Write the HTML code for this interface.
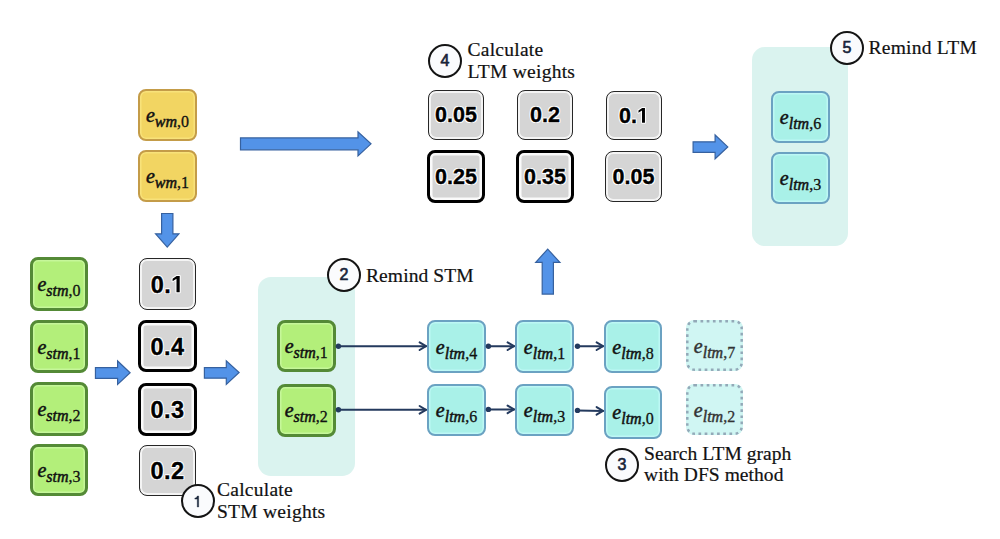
<!DOCTYPE html>
<html><head><meta charset="utf-8">
<style>
html,body{margin:0;padding:0;background:#fff;}
body{width:1000px;height:539px;position:relative;overflow:hidden;font-family:"Liberation Serif",serif;}
.bx{position:absolute;box-sizing:border-box;border-radius:8px;display:flex;align-items:center;justify-content:center;}
.g{background:#b3ef7a;border:3px solid #548a36;box-shadow:inset 0 0 0 1.5px #c6f79a;}
.y{background:#f2d562;border:2.5px solid #c49c48;box-shadow:inset 0 0 0 1.5px #f8e27a;}
.w{background:#d5d5d5;border:1.8px solid #262626;box-shadow:inset 0 0 0 2px #f4f4f4;}
.w.k{border:3.5px solid #000;box-shadow:inset 0 0 0 2.5px #fafafa;}
.t{background:#a9f1e8;border:2.7px solid #6ba2c2;box-shadow:inset 0 0 0 1.5px #bdf8f5;}
.d{background:#d0f6f3;border:none;}
.ctr{position:absolute;background:#daf3ef;border-radius:13px;}
.num{font-family:"Liberation Sans",sans-serif;font-weight:bold;font-size:21.5px;letter-spacing:0.1px;position:relative;top:0.7px;color:#000;-webkit-text-stroke:0.35px #000;text-shadow:1px 0 0 #fff,-1px 0 0 #fff,0 1px 0 #fff,0 -1px 0 #fff,1px 1px 0 #fff,-1px -1px 0 #fff,1px -1px 0 #fff,-1px 1px 0 #fff;}
.lab{font-family:"Liberation Serif",serif;font-size:20px;color:#111;white-space:nowrap;line-height:20px;position:relative;top:1px;-webkit-text-stroke:0.3px #111;}
.lab i{font-style:italic;font-weight:normal;-webkit-text-stroke:0.5px #111;}
.lab .s{font-size:16px;position:relative;top:5px;}
.d .lab{color:#333;-webkit-text-stroke:0.3px #333;}
.d .lab i{font-weight:normal;-webkit-text-stroke:0.45px #333;}
.circ{position:absolute;box-sizing:border-box;width:34px;height:34px;border-radius:50%;border:2px solid #141414;background:#fafbfd;font-family:"Liberation Sans",sans-serif;font-size:16px;display:flex;align-items:center;justify-content:center;color:#18243a;-webkit-text-stroke:0.65px #18243a;}
.txt{position:absolute;font-family:"Liberation Serif",serif;font-size:19.5px;letter-spacing:0.25px;line-height:22px;color:#111;white-space:nowrap;-webkit-text-stroke:0.2px #111;}
svg.ov{position:absolute;left:0;top:0;}
.L .num{font-size:23.5px;letter-spacing:0.5px;top:1px;}
svg.one{display:inline-block;width:0.556em;height:0.688em;vertical-align:baseline;overflow:visible;fill:currentColor;}
</style></head>
<body>

<!-- containers -->
<div class="ctr" style="left:258px;top:277px;width:96.5px;height:199px;"></div>
<div class="ctr" style="left:752px;top:47px;width:96px;height:199px;"></div>

<!-- WM yellow -->
<div class="bx y" style="left:138px;top:89px;width:59px;height:52px;"><span class="lab"><i>e</i><span class="s"><i>wm</i>,0</span></span></div>
<div class="bx y" style="left:138px;top:150px;width:59px;height:52px;"><span class="lab"><i>e</i><span class="s"><i>wm</i>,1</span></span></div>

<!-- STM green left -->
<div class="bx g" style="left:30px;top:257px;width:58px;height:54px;"><span class="lab"><i>e</i><span class="s"><i>stm</i>,0</span></span></div>
<div class="bx g" style="left:30px;top:320px;width:58px;height:53px;"><span class="lab"><i>e</i><span class="s"><i>stm</i>,1</span></span></div>
<div class="bx g" style="left:30px;top:382px;width:58px;height:54px;"><span class="lab"><i>e</i><span class="s"><i>stm</i>,2</span></span></div>
<div class="bx g" style="left:30px;top:444px;width:58px;height:52px;"><span class="lab"><i>e</i><span class="s"><i>stm</i>,3</span></span></div>

<!-- STM weights -->
<div class="bx L w" style="left:139px;top:258px;width:57px;height:52px;"><span class="num">0.<svg class="one" viewBox="0 -1409 1139 1409"><path d="M478 0V-1170L140-959V-1180L493-1409H759V0Z" stroke="#fff" stroke-width="180" paint-order="stroke" stroke-linejoin="round"/></svg></span></div>
<div class="bx L w k" style="left:138px;top:320px;width:59px;height:52px;"><span class="num">0.4</span></div>
<div class="bx L w k" style="left:138px;top:383px;width:59px;height:53px;"><span class="num">0.3</span></div>
<div class="bx L w" style="left:139px;top:444.5px;width:57px;height:51px;"><span class="num">0.2</span></div>

<!-- Remind STM green -->
<div class="bx g" style="left:277px;top:320.3px;width:58.5px;height:52px;"><span class="lab"><i>e</i><span class="s"><i>stm</i>,1</span></span></div>
<div class="bx g" style="left:277px;top:383.5px;width:58.5px;height:53px;"><span class="lab"><i>e</i><span class="s"><i>stm</i>,2</span></span></div>

<!-- LTM graph -->
<div class="bx t" style="left:427px;top:320px;width:59px;height:53px;"><span class="lab"><i>e</i><span class="s"><i>ltm</i>,4</span></span></div>
<div class="bx t" style="left:515px;top:320px;width:59px;height:53px;"><span class="lab"><i>e</i><span class="s"><i>ltm</i>,1</span></span></div>
<div class="bx t" style="left:604px;top:320px;width:58px;height:53px;"><span class="lab"><i>e</i><span class="s"><i>ltm</i>,8</span></span></div>
<div class="bx d" style="left:686px;top:320px;width:57px;height:51px;"><span class="lab"><i>e</i><span class="s"><i>ltm</i>,7</span></span></div>
<div class="bx t" style="left:427px;top:383.5px;width:59px;height:52px;"><span class="lab"><i>e</i><span class="s"><i>ltm</i>,6</span></span></div>
<div class="bx t" style="left:515px;top:383.5px;width:59px;height:52px;"><span class="lab"><i>e</i><span class="s"><i>ltm</i>,3</span></span></div>
<div class="bx t" style="left:604px;top:386px;width:58px;height:52.6px;"><span class="lab"><i>e</i><span class="s"><i>ltm</i>,0</span></span></div>
<div class="bx d" style="left:686px;top:384px;width:57px;height:51px;"><span class="lab"><i>e</i><span class="s"><i>ltm</i>,2</span></span></div>

<!-- LTM weights -->
<div class="bx w" style="left:428px;top:90px;width:56px;height:50px;"><span class="num">0.05</span></div>
<div class="bx w" style="left:517px;top:90px;width:56px;height:50px;"><span class="num">0.2</span></div>
<div class="bx w" style="left:606px;top:91px;width:56px;height:49px;"><span class="num">0.<svg class="one" viewBox="0 -1409 1139 1409"><path d="M478 0V-1170L140-959V-1180L493-1409H759V0Z" stroke="#fff" stroke-width="180" paint-order="stroke" stroke-linejoin="round"/></svg></span></div>
<div class="bx w k" style="left:427px;top:150px;width:58px;height:53px;"><span class="num">0.25</span></div>
<div class="bx w k" style="left:516px;top:150px;width:58px;height:53px;"><span class="num">0.35</span></div>
<div class="bx w" style="left:605px;top:151px;width:57px;height:51px;"><span class="num">0.05</span></div>

<!-- Remind LTM -->
<div class="bx t" style="left:771px;top:91px;width:59px;height:52px;"><span class="lab"><i>e</i><span class="s"><i>ltm</i>,6</span></span></div>
<div class="bx t" style="left:771px;top:151.8px;width:59px;height:52px;"><span class="lab"><i>e</i><span class="s"><i>ltm</i>,3</span></span></div>

<!-- arrows -->
<svg class="ov" width="1000" height="539" viewBox="0 0 1000 539">
 <g fill="#5393e8" stroke="#36619f" stroke-width="1.2" stroke-linejoin="miter">
  <polygon points="240.5,137.9 358,137.9 358,131.8 371,143.85 358,155.9 358,149.8 240.5,149.8"/>
  <polygon points="161.6,213.5 172.9,213.5 172.9,233.8 178.9,233.8 167.25,247.1 155.6,233.8 161.6,233.8"/>
  <polygon points="95.45,367.7 117.6,367.7 117.6,361 130.1,372.7 117.6,384.4 117.6,378.4 95.45,378.4"/>
  <polygon points="204.4,367.7 226.3,367.7 226.3,360.8 239.1,372.5 226.3,384.4 226.3,378.2 204.4,378.2"/>
  <polygon points="542.2,294.1 542.2,262.3 535.7,262.3 547.7,249.2 559.9,262.3 553.4,262.3 553.4,294.1"/>
  <polygon points="693.1,141.8 715.1,141.8 715.1,135 727.8,146.9 715.1,158.8 715.1,152.4 693.1,152.4"/>
 </g>
 <g fill="none" stroke="#93a9b8" stroke-width="2.5" stroke-dasharray="2.7 3.5">
  <rect x="687.3" y="321.3" width="54.4" height="48.4" rx="7"/>
  <rect x="687.3" y="385.3" width="54.4" height="48.4" rx="7"/>
 </g>
 <g stroke="#243a5e" stroke-width="2" fill="none" stroke-linecap="round" stroke-linejoin="round">
  <line x1="338.5" y1="346.2" x2="426" y2="346.2"/><polyline points="419.6,342.4 426,346.2 419.6,350"/>
  <line x1="338.5" y1="409.8" x2="426" y2="409.8"/><polyline points="419.6,406 426,409.8 419.6,413.6"/>
  <line x1="488.4" y1="346.2" x2="514" y2="346.2"/><polyline points="507.6,342.4 514,346.2 507.6,350"/>
  <line x1="488.4" y1="409.4" x2="514" y2="409.4"/><polyline points="507.6,405.6 514,409.4 507.6,413.2"/>
  <line x1="577.5" y1="346.2" x2="603" y2="346.2"/><polyline points="596.6,342.4 603,346.2 596.6,350"/>
  <line x1="577.5" y1="410.4" x2="603" y2="410.9"/><polyline points="596.6,407.1 603,410.9 596.6,414.7"/>
 </g>
 <g fill="#243a5e">
  <circle cx="338.4" cy="346.2" r="2.7"/><circle cx="338.4" cy="409.8" r="2.7"/>
  <circle cx="488.4" cy="346.2" r="2.7"/><circle cx="488.4" cy="409.4" r="2.7"/>
  <circle cx="577.5" cy="346.2" r="2.7"/><circle cx="577.5" cy="410.4" r="2.7"/>
 </g>
</svg>

<!-- circles & text -->
<div class="circ" style="left:181px;top:484px;"><svg class="one" viewBox="0 -1409 1139 1409"><path d="M420 0V-1010H110V-1135Q380-1150 430-1409H596V0Z" stroke="currentColor" stroke-width="50"/></svg></div>
<div class="txt" style="left:217px;top:479px;">Calculate<br>STM weights</div>

<div class="circ" style="left:327px;top:258px;">2</div>
<div class="txt" style="left:366px;top:265px;letter-spacing:0.1px;">Remind STM</div>

<div class="circ" style="left:605px;top:448px;">3</div>
<div class="txt" style="left:644px;top:442.6px;line-height:21.6px;letter-spacing:0.05px;">Search LTM graph<br>with DFS method</div>

<div class="circ" style="left:428px;top:44px;">4</div>
<div class="txt" style="left:467.5px;top:39.2px;">Calculate<br>LTM weights</div>

<div class="circ" style="left:830px;top:31px;">5</div>
<div class="txt" style="left:868.5px;top:37px;">Remind LTM</div>

</body></html>
